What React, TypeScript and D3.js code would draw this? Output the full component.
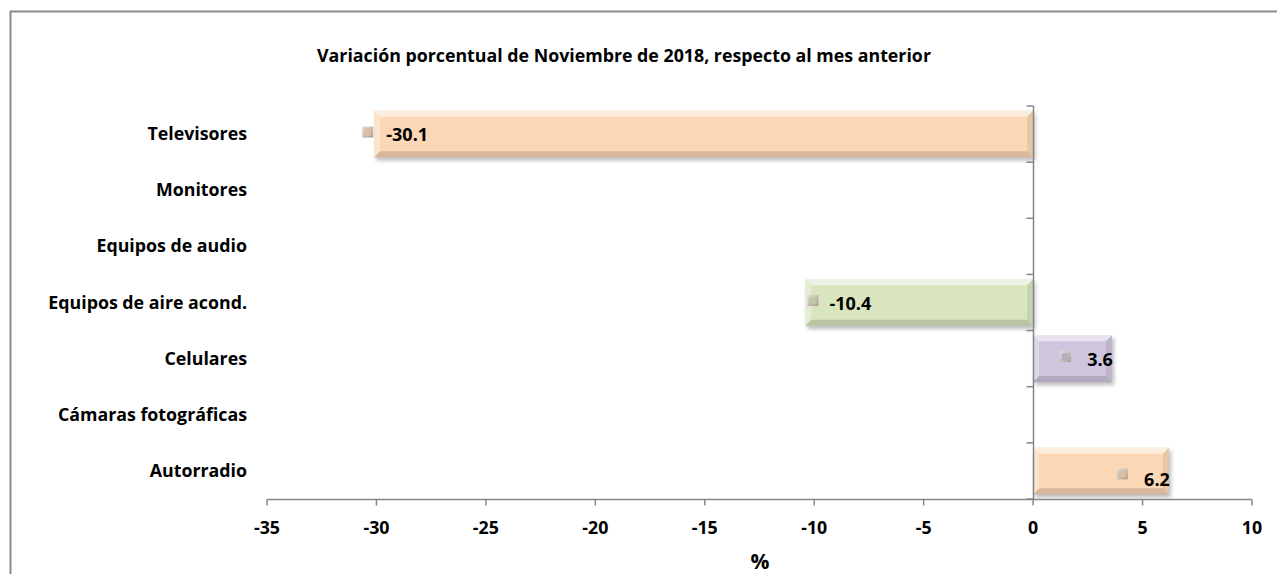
import React, { useRef, useEffect } from 'react';
import * as d3 from 'd3';

// chart data
const categories = [
  'Televisores',
  'Monitores',
  'Equipos de audio',
  'Equipos de aire acond.',
  'Celulares',
  'Cámaras fotográficas',
  'Autorradio',
];
const values: (number | null)[] = [-30.1, null, null, -10.4, 3.6, null, 6.2];
const barColors = ['#fbd7b5', '#fbd7b5', '#fbd7b5', '#d8e5bf', '#cfc5de', '#fbd7b5', '#fbd7b5'];
const xTicks = [-35, -30, -25, -20, -15, -10, -5, 0, 5, 10];
const title = 'Variación porcentual de Noviembre de 2018, respecto al mes anterior';
const xTitle = '%';

const W = 1277;
const H = 574;
const FONT = '"Open Sans", sans-serif';

const App = () => {
  const svgRef = useRef<SVGSVGElement | null>(null);

  useEffect(() => {
    const svg = d3.select(svgRef.current);
    svg.selectAll('*').remove();

    const x = d3.scaleLinear().domain([-35, 10]).range([267, 1252]);
    const y = d3.scaleBand().domain(categories).range([106, 499]).paddingInner(0.17).paddingOuter(0.085);
    const axisGray = '#868686';

    const defs = svg.append('defs');
    defs.append('filter').attr('id', 'shadow').attr('x', '-10%').attr('y', '-30%').attr('width', '120%').attr('height', '170%')
      .append('feGaussianBlur').attr('stdDeviation', 2);
    const kg = defs.append('linearGradient').attr('id', 'keyGrad').attr('x1', 0).attr('y1', 0).attr('x2', 1).attr('y2', 1);
    kg.append('stop').attr('offset', '0%').attr('stop-color', '#e6e0da');
    kg.append('stop').attr('offset', '100%').attr('stop-color', '#a89c92');

    // outer chart border
    svg.append('path')
      .attr('d', `M10.5,${H} L10.5,11.5 L${W},11.5`)
      .attr('fill', 'none').attr('stroke', '#8c8c8c').attr('stroke-width', 2);

    svg.append('text')
      .attr('x', 624).attr('y', 62)
      .attr('text-anchor', 'middle')
      .attr('font-family', FONT).attr('font-weight', 700).attr('font-size', 17.8)
      .text(title);

    // bars with bevel
    const bevel = 6;
    categories.forEach((c, i) => {
      const v = values[i];
      if (v == null) return;
      const x0 = Math.min(x(0), x(v));
      const x1 = Math.max(x(0), x(v));
      const y0 = y(c)!;
      const y1 = y0 + y.bandwidth();
      const g = svg.append('g');
      g.append('rect').attr('x', x0 + 2).attr('y', y0 + 3).attr('width', x1 - x0).attr('height', y1 - y0)
        .attr('fill', '#000').attr('opacity', 0.28).attr('filter', 'url(#shadow)');
      g.append('rect').attr('x', x0).attr('y', y0).attr('width', x1 - x0).attr('height', y1 - y0)
        .attr('fill', barColors[i]);
      const b = bevel;
      const poly = (pts: number[][], fill: string, op: number) =>
        g.append('polygon').attr('points', pts.map(p => p.join(',')).join(' ')).attr('fill', fill).attr('opacity', op);
      poly([[x0, y0], [x1, y0], [x1 - b, y0 + b], [x0 + b, y0 + b]], '#fff', 0.55);
      poly([[x0, y0], [x0 + b, y0 + b], [x0 + b, y1 - b], [x0, y1]], '#fff', 0.3);
      poly([[x0, y1], [x0 + b, y1 - b], [x1 - b, y1 - b], [x1, y1]], '#000', 0.14);
      poly([[x1, y0], [x1, y1], [x1 - b, y1 - b], [x1 - b, y0 + b]], '#000', 0.08);

      // data label: legend key + value
      const cy = y0 + (y1 - y0) / 2;
      const label = v.toFixed(1);
      let keyX: number;
      let textX: number;
      let anchor: string;
      if (v < 0) {
        keyX = x(v) - 12;
        textX = x(v) + 12;
        anchor = 'start';
        if (v > -20) { keyX = x(v) + 2; textX = x(v) + 24; }
      } else {
        keyX = x(v) - 52;
        textX = x(v) + 1;
        anchor = 'end';
      }
      const ky = v > 5 ? cy + 3 : cy - 2;
      const ty = v > 5 ? cy + 15 : cy + 7;
      g.append('rect').attr('x', keyX).attr('y', ky - 5.5).attr('width', 11).attr('height', 11)
        .attr('fill', 'url(#keyGrad)');
      g.append('rect').attr('x', keyX + 2).attr('y', ky - 3.5).attr('width', 7).attr('height', 7)
        .attr('fill', d3.color(barColors[i])!.darker(0.35).toString());
      g.append('text')
        .attr('x', textX).attr('y', ty)
        .attr('text-anchor', anchor)
        .attr('font-family', FONT).attr('font-weight', 700).attr('font-size', 18)
        .text(label);
    });

    // vertical axis at zero
    const zx = Math.round(x(0)) + 0.5;
    svg.append('line').attr('x1', zx).attr('x2', zx).attr('y1', 106).attr('y2', 499)
      .attr('stroke', axisGray).attr('stroke-width', 1.5);
    const bandEdges = categories.map(c => y(c)! - y.step() * y.paddingInner() / 2).concat([499]);
    bandEdges.forEach(e => {
      svg.append('line').attr('x1', zx - 7).attr('x2', zx).attr('y1', e).attr('y2', e)
        .attr('stroke', axisGray).attr('stroke-width', 1.5);
    });

    // category labels
    categories.forEach(c => {
      svg.append('text')
        .attr('x', 247).attr('y', y(c)! + y.bandwidth() / 2 + 6)
        .attr('text-anchor', 'end')
        .attr('font-family', FONT).attr('font-weight', 700).attr('font-size', 17.8)
        .text(c);
    });

    // x axis
    const xa = svg.append('g').attr('transform', 'translate(0,499.5)');
    xa.append('line').attr('x1', x(-35)).attr('x2', x(10)).attr('stroke', axisGray).attr('stroke-width', 1.5);
    xTicks.forEach(t => {
      xa.append('line').attr('x1', x(t)).attr('x2', x(t)).attr('y1', 0).attr('y2', 6)
        .attr('stroke', axisGray).attr('stroke-width', 1.5);
      xa.append('text').attr('x', x(t)).attr('y', 34)
        .attr('text-anchor', 'middle')
        .attr('font-family', FONT).attr('font-weight', 700).attr('font-size', 17.8)
        .text(String(t));
    });

    svg.append('text')
      .attr('x', 760).attr('y', 569)
      .attr('text-anchor', 'middle')
      .attr('font-family', FONT).attr('font-weight', 700).attr('font-size', 21)
      .text(xTitle);
  }, []);

  return (
    <svg
      ref={svgRef}
      width={W}
      height={H}
      style={{ position: 'absolute', left: 0, top: 0, background: '#fff' }}
    />
  );
};

export default App;
